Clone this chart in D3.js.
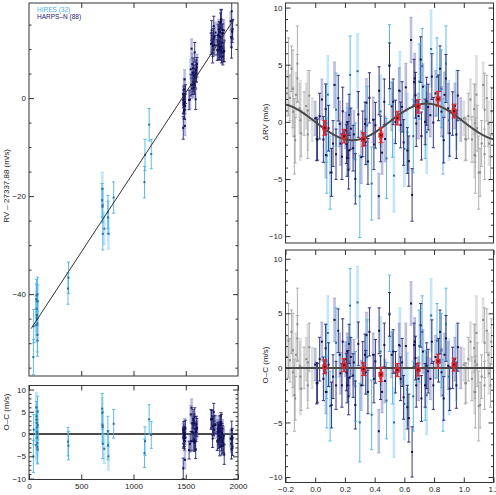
<!DOCTYPE html>
<html>
<head>
<meta charset="utf-8">
<script src="https://cdn.jsdelivr.net/npm/d3@7"></script>
<style>
  body { margin: 0; background: #fff; }
  svg { display: block; }
  text { font-family: "Liberation Sans", Arial, sans-serif; }
</style>
</head>
<body>
<div id="chart-container"></div>
<script>
// ==== data ====
// HIRES: time (d), orbital phase, residual O-C (m/s), error (m/s)
const hiresTime = [42, 760, 1105, 82, 720, 80, 378, 70, 757, 706, 80, 373, 1110, 78, 1170, 78,
  76, 755, 45, 75, 705, 84, 703, 810, 74, 72, 1150, 72, 702, 82, 700, 70]
const hiresPhase = [0.30, 0.53, 0.38, 0.10, 0.60, 0.48, 0.66, 0.75, 0.86, 0.078, 0.62, 0.27, 0.74, 0.90, 0.22, 0.52,
  0.95, 0.075, 0.35, 0.44, 0.85, 0.70, 0.57, 0.14, 0.82, 0.085, 0.72, 0.88, 0.78, 0.50, 0.235, 0.285]
const hiresOC = [-5.0, -5.0, -4.3, -3.5, -3.3, -3.0, -2.6, -2.5, -2.5, -2.2, -2.0, -1.7, -1.6, -0.8, -0.2, 0.0,
  0.5, 0.6, 1.0, 1.5, 1.6, 2.0, 2.0, 2.3, 2.5, 3.2, 3.3, 4.0, 4.8, 5.0, 5.7, 6.0]
const hiresErr = [3.6, 3.2, 3.2, 3.2, 3.3, 3.5, 3.2, 3.6, 3.3, 3.3, 3.4, 3.2, 3.2, 3.5, 3.0, 3.3,
  3.5, 3.4, 3.4, 3.2, 3.4, 3.3, 3.5, 3.2, 3.4, 3.4, 3.3, 3.3, 3.4, 3.5, 3.4, 3.3]

// HARPS-N
const harpsTime = [1478, 1812, 1482, 1565, 1830, 1760, 1935, 1595, 1486, 1548,
  1842, 1752, 1805, 1488, 1580, 1475, 1480, 1484, 1818, 1490,
  1855, 1494, 1602, 1836, 1560, 1938, 1778, 1848, 1497, 1822,
  1575, 1862, 1742, 1590, 1944, 1808, 1492, 1570, 1479, 1540,
  1828, 1768, 1852, 1606, 1483, 1815, 1598, 1845, 1785, 1532,
  1868, 1556, 1476, 1832, 1563, 1940, 1572, 1858, 1586, 1825,
  1489, 1592, 1810, 1930, 1840, 1550, 1773, 1820, 1748, 1864,
  1948, 1838, 1485, 1583, 1850, 1600, 1802, 1765, 1487, 1834,
  1568, 1943, 1481, 1846, 1578, 1757, 1816, 1608]
const harpsPhase = [0.0, 0.01, 0.015, 0.045, 0.055, 0.07, 0.072, 0.11, 0.12, 0.13,
  0.14, 0.155, 0.165, 0.18, 0.185, 0.205, 0.21, 0.215, 0.215, 0.22,
  0.225, 0.23, 0.228, 0.255, 0.26, 0.27, 0.29, 0.31, 0.335, 0.34,
  0.345, 0.355, 0.365, 0.39, 0.395, 0.405, 0.428, 0.43, 0.44, 0.45,
  0.465, 0.50, 0.515, 0.525, 0.54, 0.565, 0.585, 0.595, 0.61, 0.62,
  0.63, 0.645, 0.652, 0.665, 0.67, 0.675, 0.68, 0.695, 0.71, 0.715,
  0.725, 0.74, 0.75, 0.775, 0.785, 0.795, 0.81, 0.83, 0.84, 0.85,
  0.865, 0.88, 0.895, 0.905, 0.925, 0.94, 0.95, 0.96, 0.98, 0.03,
  0.09, 0.17, 0.24, 0.32, 0.47, 0.575, 0.76, 0.87]
const harpsOC = [0.3, -1.4, -1.4, 2.4, -1.0, 1.8, -2.2, -3.4, -0.8, 4.4,
  -1.6, 3.4, 1.2, -1.6, 2.4, 0.8, -0.4, -1.6, 1.5, 0.0,
  -2.6, -0.9, 2.2, -0.7, 0.5, -3.4, 2.2, -1.6, 1.2, -0.4,
  3.0, -2.2, 3.3, 1.2, -1.0, 0.6, -5.8, 3.4, -0.9, -2.2,
  2.1, 4.9, 1.2, 1.5, -0.4, 2.1, 0.5, -2.7, 2.0, -3.6,
  -4.6, 5.9, -7.7, 2.1, 2.4, 0.9, -1.6, -1.0, 3.9, -2.8,
  1.5, -1.6, 0.2, -1.0, 2.4, -1.6, 1.0, 0.7, 3.3, -0.4,
  -2.8, 2.7, 0.2, -1.9, 0.0, 0.8, -1.6, 1.9, 0.0, 0.8,
  0.3, -0.5, 1.0, 0.4, -1.2, -1.0, -0.3, 1.2]
const harpsErr = [1.5, 1.9, 1.8, 1.8, 2.0, 2.2, 2.0, 2.1, 2.0, 2.0,
  2.2, 2.0, 2.0, 2.0, 2.1, 1.6, 1.7, 1.6, 1.7, 1.6,
  1.7, 1.6, 1.8, 2.0, 2.1, 2.2, 2.0, 2.3, 1.9, 2.0,
  2.1, 2.0, 2.2, 2.0, 2.2, 2.0, 2.0, 2.1, 2.0, 1.9,
  2.0, 2.0, 2.1, 2.0, 1.9, 2.0, 2.2, 2.0, 2.1, 2.0,
  2.2, 2.0, 2.3, 2.0, 2.2, 2.0, 2.0, 2.0, 2.0, 2.1,
  2.0, 2.0, 2.1, 1.9, 2.0, 2.2, 2.0, 2.0, 2.0, 2.2,
  2.0, 2.1, 2.2, 2.0, 1.9, 2.0, 2.1, 2.2, 1.9, 2.0,
  2.0, 1.9, 1.8, 2.0, 2.0, 2.0, 2.0, 2.0]

// binned residuals (red)
const binPhase = [0.064, 0.195, 0.325, 0.442, 0.553, 0.693, 0.828, 0.934]
const binOC = [0.1, 0.25, -0.1, -0.6, -0.2, -0.15, 0.6, 0.3]
const binErr = [0.65, 0.6, 0.6, 0.65, 0.6, 0.6, 0.65, 0.6]

// long-term trend (end points of the straight line)
const trendTime = [20, 1960]
const trendRV = [-47.05, 16.05]
// planet signal semi-amplitude (m/s)
const K = 1.6

// tick labels
const tlYTicks = [-40, -20, 0]
const tYearTicks = [0, 500, 1000, 1500, 2000]
const ocTicks = [-10, -5, 0, 5, 10]
const phaseTicks = [-0.2, 0, 0.2, 0.4, 0.6, 0.8, 1.0, 1.2]

// ==== styles ====
const colors = {
  hires: { bar: '#4cb4e6', wide: 'rgba(125,200,240,0.45)', dot: '#2a6f9c' },
  harps: { bar: '#23236e', wide: 'rgba(110,110,185,0.45)', dot: '#111150' },
  gray: { bar: '#a8a8a8', wide: 'rgba(175,175,175,0.4)', dot: '#8a8a8a' },
}

const W = 496
const H = 495
const svg = d3.select('#chart-container').append('svg').attr('width', W).attr('height', H)

const trend = d3.scaleLinear().domain(trendTime).range(trendRV)
const model = (ph) => -K * Math.sin(2 * Math.PI * ph)

// one record per measurement; every third one gets the pale wide bar
const recs = []
hiresTime.forEach((t, i) =>
  recs.push({ inst: 'hires', t, ph: hiresPhase[i], oc: hiresOC[i], err: hiresErr[i], wide: i % 3 === 1 }))
harpsTime.forEach((t, i) =>
  recs.push({ inst: 'harps', t, ph: harpsPhase[i], oc: harpsOC[i], err: harpsErr[i], wide: i % 3 === 0 }))
recs.forEach((d) => { d.rv = trend(d.t) + model(d.ph) + d.oc })

let clipN = 0
function makePanel(box, xDomain, yDomain) {
  const x = d3.scaleLinear().domain(xDomain).range([box.x0, box.x1])
  const y = d3.scaleLinear().domain(yDomain).range([box.y1, box.y0])
  const id = 'clip' + clipN++
  svg.append('clipPath').attr('id', id).append('rect')
    .attr('x', box.x0).attr('y', box.y0)
    .attr('width', box.x1 - box.x0).attr('height', box.y1 - box.y0)
  const g = svg.append('g').attr('clip-path', `url(#${id})`)
  return { x, y, g, box }
}

// pts: {xv, yv, err, col, wide}
function drawErrPoints(p, pts) {
  const { x, y, g } = p
  const wide = pts.filter((d) => d.wide)
  g.append('g').selectAll('line').data(wide).join('line')
    .attr('x1', (d) => x(d.xv)).attr('x2', (d) => x(d.xv))
    .attr('y1', (d) => y(d.yv - d.err)).attr('y2', (d) => y(d.yv + d.err))
    .attr('stroke', (d) => d.col.wide).attr('stroke-width', 2.6)
  g.append('g').selectAll('line').data(pts.filter((d) => !d.wide)).join('line')
    .attr('x1', (d) => x(d.xv)).attr('x2', (d) => x(d.xv))
    .attr('y1', (d) => y(d.yv - d.err)).attr('y2', (d) => y(d.yv + d.err))
    .attr('stroke', (d) => d.col.bar).attr('stroke-width', 0.9)
  // caps
  const caps = []
  pts.forEach((d) => { caps.push({ d, v: d.yv - d.err }, { d, v: d.yv + d.err }) })
  g.append('g').selectAll('line').data(caps).join('line')
    .attr('x1', (c) => x(c.d.xv) - 1.6).attr('x2', (c) => x(c.d.xv) + 1.6)
    .attr('y1', (c) => y(c.v)).attr('y2', (c) => y(c.v))
    .attr('stroke', (c) => (c.d.wide ? c.d.col.wide : c.d.col.bar)).attr('stroke-width', 0.9)
  g.append('g').selectAll('rect').data(pts).join('rect')
    .attr('x', (d) => x(d.xv) - 1).attr('y', (d) => y(d.yv) - 1)
    .attr('width', 2).attr('height', 2)
    .attr('fill', (d) => d.col.dot)
}

function drawBins(p, offsetFn) {
  const { x, y, g } = p
  const bins = binPhase.map((ph, i) => ({ ph, v: binOC[i] + offsetFn(ph), err: binErr[i] }))
  const bg = g.append('g')
  bg.selectAll('line.bar').data(bins).join('line').attr('class', 'bar')
    .attr('x1', (d) => x(d.ph)).attr('x2', (d) => x(d.ph))
    .attr('y1', (d) => y(d.v - d.err)).attr('y2', (d) => y(d.v + d.err))
    .attr('stroke', '#e3262b').attr('stroke-width', 2.2)
  const caps = []
  bins.forEach((d) => { caps.push({ d, v: d.v - d.err }, { d, v: d.v + d.err }) })
  bg.selectAll('line.cap').data(caps).join('line').attr('class', 'cap')
    .attr('x1', (c) => x(c.d.ph) - 2.5).attr('x2', (c) => x(c.d.ph) + 2.5)
    .attr('y1', (c) => y(c.v)).attr('y2', (c) => y(c.v))
    .attr('stroke', '#e3262b').attr('stroke-width', 1)
  bg.selectAll('rect.m').data(bins).join('rect').attr('class', 'm')
    .attr('x', (d) => x(d.ph) - 2.5).attr('y', (d) => y(d.v) - 2.5)
    .attr('width', 5).attr('height', 5).attr('fill', '#e3262b')
  bg.selectAll('rect.c').data(bins).join('rect').attr('class', 'c')
    .attr('x', (d) => x(d.ph) - 1).attr('y', (d) => y(d.v) - 1)
    .attr('width', 2).attr('height', 2).attr('fill', '#5a0c10')
}

// inward ticks on all four sides, labels on left / bottom only
function drawAxes(p, o) {
  const { x, y, box } = p
  const ax = svg.append('g')
  const style = (s) => {
    s.select('.domain').remove()
    s.selectAll('line').attr('stroke', '#333')
    s.selectAll('text').attr('fill', '#222').attr('font-size', 8)
      .attr('font-family', '"Liberation Sans", Arial, sans-serif')
  }
  const fmt = o.yFmt || d3.format('d')
  ax.append('g').attr('transform', `translate(${box.x0},0)`)
    .call(d3.axisLeft(y).tickValues(o.yMajor).tickSize(-5).tickPadding(3).tickFormat(fmt)).call(style)
  ax.append('g').attr('transform', `translate(${box.x1},0)`)
    .call(d3.axisRight(y).tickValues(o.yMajor).tickSize(-5).tickFormat('')).call(style)
  if (o.yMinor) {
    ax.append('g').attr('transform', `translate(${box.x0},0)`)
      .call(d3.axisLeft(y).tickValues(o.yMinor).tickSize(-2.5).tickFormat('')).call(style)
    ax.append('g').attr('transform', `translate(${box.x1},0)`)
      .call(d3.axisRight(y).tickValues(o.yMinor).tickSize(-2.5).tickFormat('')).call(style)
  }
  ax.append('g').attr('transform', `translate(0,${box.y1})`)
    .call(d3.axisBottom(x).tickValues(o.xMajor).tickSize(-5).tickPadding(4)
      .tickFormat(o.xLabels ? o.xFmt : '')).call(style)
  ax.append('g').attr('transform', `translate(0,${box.y0})`)
    .call(d3.axisTop(x).tickValues(o.xMajor).tickSize(-5).tickFormat('')).call(style)
  svg.append('rect')
    .attr('x', box.x0).attr('y', box.y0)
    .attr('width', box.x1 - box.x0).attr('height', box.y1 - box.y0)
    .attr('fill', 'none').attr('stroke', '#333').attr('stroke-width', 1)
}

function yLabel(txt, xPos, yPos) {
  svg.append('text')
    .attr('transform', `translate(${xPos},${yPos}) rotate(-90)`)
    .attr('text-anchor', 'middle').attr('font-size', 8).attr('fill', '#222')
    .text(txt)
}

const colOf = (d) => colors[d.inst]

// ==== top left: RV vs time ====
const pTL = makePanel({ x0: 29, x1: 238, y0: 3, y1: 376 }, [0, 2000], [-56.7, 19.4])
drawErrPoints(pTL, recs.map((d) => ({ xv: d.t, yv: d.rv, err: d.err, col: colOf(d), wide: d.wide })))
pTL.g.append('path')
  .attr('d', d3.line().x((t) => pTL.x(t)).y((t) => pTL.y(trend(t)))(trendTime))
  .attr('stroke', '#333').attr('stroke-width', 1).attr('fill', 'none')
drawAxes(pTL, {
  yMajor: tlYTicks, yMinor: d3.range(-55, 20, 5).filter((v) => v % 20 !== 0),
  xMajor: [500, 1000, 1500],
})
yLabel('RV \u2013 27337.88 (m/s)', 9, 186)

svg.append('text').attr('x', 37).attr('y', 12).attr('font-size', 6.5)
  .attr('fill', colors.hires.bar).text('HIRES (32)')
svg.append('text').attr('x', 37).attr('y', 18.5).attr('font-size', 6.5)
  .attr('fill', colors.harps.bar).text('HARPS\u2013N (88)')

// ==== bottom left: O-C vs time ====
const pBL = makePanel({ x0: 29, x1: 238, y0: 385.5, y1: 479.5 }, [0, 2000], [-10.2, 10.9])
pBL.g.append('line')
  .attr('x1', pBL.x(0)).attr('x2', pBL.x(2000)).attr('y1', pBL.y(0)).attr('y2', pBL.y(0))
  .attr('stroke', '#111').attr('stroke-width', 1.4)
drawErrPoints(pBL, recs.map((d) => ({ xv: d.t, yv: d.oc, err: d.err, col: colOf(d), wide: d.wide })))
drawAxes(pBL, {
  yMajor: ocTicks, yMinor: d3.range(-10, 11, 1).filter((v) => v % 5 !== 0),
  xMajor: tYearTicks, xLabels: true, xFmt: d3.format('d'),
})
yLabel('O\u2013C (m/s)', 9, 412)

// phase-folded points, with the gray wrap-around copies
function foldedPts(valFn) {
  const pts = []
  recs.forEach((d) => {
    if (d.ph >= 0.8) pts.push({ xv: d.ph - 1, yv: valFn(d, d.ph - 1), err: d.err, col: colors.gray, wide: d.wide })
    if (d.ph < 0.2) pts.push({ xv: d.ph + 1, yv: valFn(d, d.ph + 1), err: d.err, col: colors.gray, wide: d.wide })
  })
  recs.forEach((d) => pts.push({ xv: d.ph, yv: valFn(d, d.ph), err: d.err, col: colOf(d), wide: d.wide }))
  return pts
}

const phaseGrid = d3.range(-0.2, 1.2001, 0.005)

// ==== top right: ΔRV vs phase ====
const pTR = makePanel({ x0: 285.5, x1: 493.5, y0: 3, y1: 243 }, [-0.2, 1.2], [-10.6, 10.4])
drawErrPoints(pTR, foldedPts((d, ph) => d.oc + model(ph)))
pTR.g.append('path')
  .attr('d', d3.line().x((ph) => pTR.x(ph)).y((ph) => pTR.y(model(ph)))(phaseGrid))
  .attr('stroke', '#4a4a4a').attr('stroke-width', 2).attr('fill', 'none')
drawBins(pTR, model)
drawAxes(pTR, {
  yMajor: ocTicks, yMinor: d3.range(-10, 11, 1).filter((v) => v % 5 !== 0),
  xMajor: [0, 0.2, 0.4, 0.6, 0.8, 1.0],
})
yLabel('\u0394RV (m/s)', 267.5, 122)

// ==== bottom right: O-C vs phase ====
const pBR = makePanel({ x0: 285.5, x1: 493.5, y0: 250, y1: 482.5 }, [-0.2, 1.2], [-10.5, 10.8])
drawErrPoints(pBR, foldedPts((d) => d.oc))
pBR.g.append('line')
  .attr('x1', pBR.x(-0.2)).attr('x2', pBR.x(1.2)).attr('y1', pBR.y(0)).attr('y2', pBR.y(0))
  .attr('stroke', '#4a4a4a').attr('stroke-width', 2)
drawBins(pBR, () => 0)
drawAxes(pBR, {
  yMajor: ocTicks, yMinor: d3.range(-10, 11, 1).filter((v) => v % 5 !== 0),
  xMajor: phaseTicks, xLabels: true, xFmt: d3.format('.1f'),
})
yLabel('O\u2013C (m/s)', 267.5, 365)
</script>
</body>
</html>
